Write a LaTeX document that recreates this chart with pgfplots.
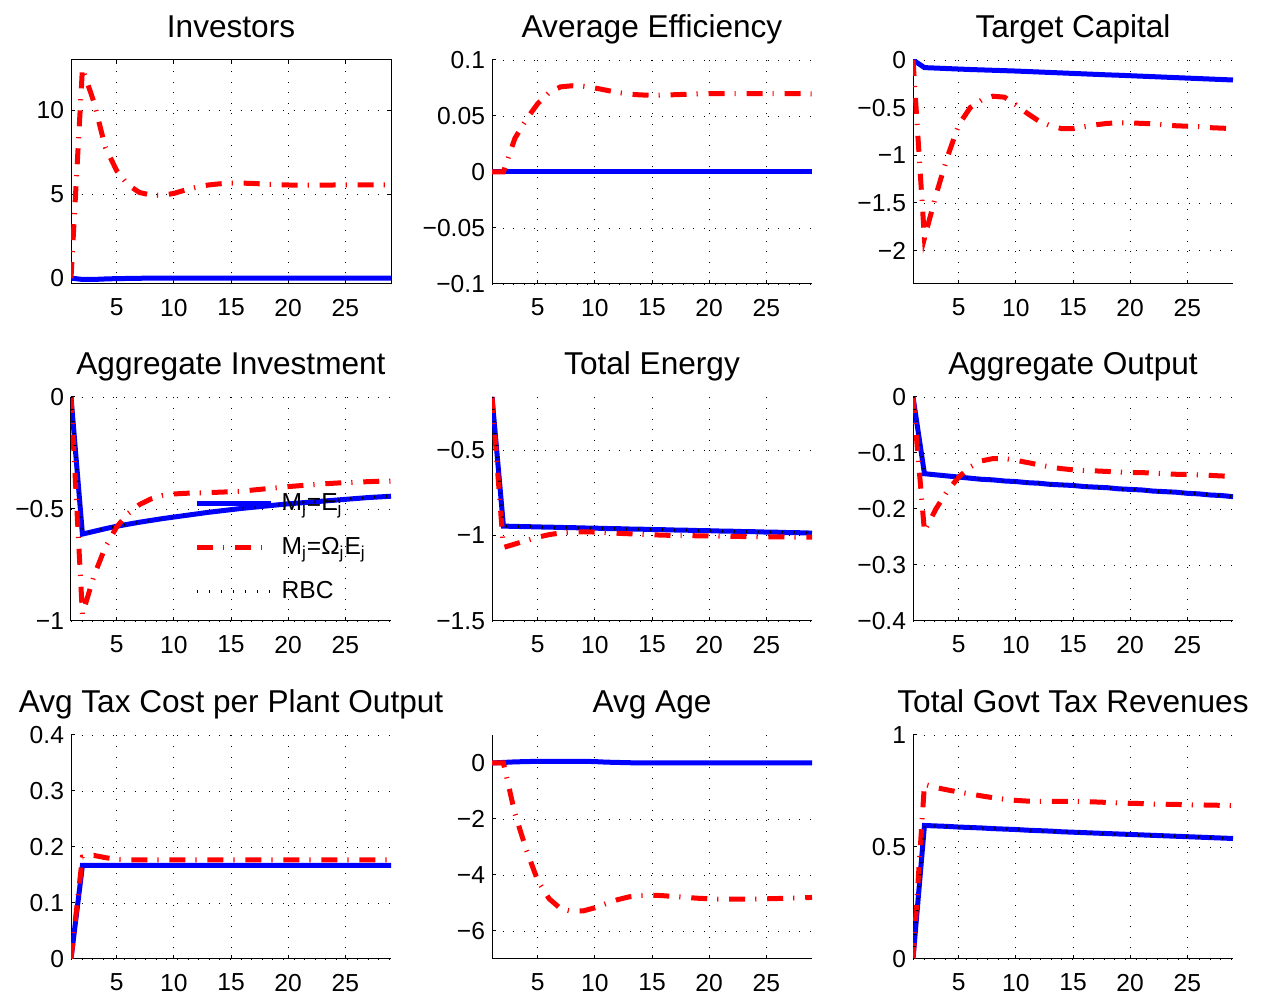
\documentclass[border=0pt]{standalone}
\usepackage{fontspec}
\setmainfont{Liberation Sans}
\usepackage{pgfplots}
\usepackage{pgfplotstable}
\pgfplotsset{compat=1.18}

\pgfplotstableread{
t b r
1 0 0
2 -0.08 12.5
3 -0.08 10.5
4 -0.05 7.8
5 -0.03 6.4
6 -0.02 5.55
7 -0.01 5.1
8 0 4.95
9 0 4.93
10 0 5.05
11 0 5.25
12 0 5.42
13 0 5.55
14 0 5.62
15 0 5.66
16 0 5.66
17 0 5.64
18 0 5.6
19 0 5.57
20 0 5.55
21 0 5.54
22 0 5.54
23 0 5.54
24 0 5.55
25 0 5.55
26 0 5.55
27 0 5.56
28 0 5.56
29 0 5.56
}\tinv

\pgfplotstableread{
t b r
1 0 0
2 0 0
3 0 0.03
4 0 0.047
5 0 0.061
6 0 0.071
7 0 0.076
8 0 0.077
9 0 0.0765
10 0 0.075
11 0 0.073
12 0 0.071
13 0 0.0695
14 0 0.0688
15 0 0.0685
16 0 0.0687
17 0 0.069
18 0 0.0694
19 0 0.0697
20 0 0.0699
21 0 0.07
22 0 0.07
23 0 0.07
24 0 0.07
25 0 0.07
26 0 0.07
27 0 0.07
28 0 0.0699
29 0 0.0698
}\teff

\pgfplotstableread{
t b r
1 0 0
2 -0.08 -1.87
3 -0.085 -1.42
4 -0.09 -1.02
5 -0.095 -0.68
6 -0.10 -0.50
7 -0.104 -0.42
8 -0.108 -0.38
9 -0.112 -0.39
10 -0.116 -0.47
11 -0.121 -0.56
12 -0.126 -0.64
13 -0.131 -0.69
14 -0.136 -0.72
15 -0.141 -0.72
16 -0.146 -0.70
17 -0.151 -0.68
18 -0.156 -0.665
19 -0.160 -0.66
20 -0.165 -0.66
21 -0.170 -0.665
22 -0.175 -0.67
23 -0.180 -0.68
24 -0.185 -0.69
25 -0.190 -0.695
26 -0.195 -0.70
27 -0.200 -0.71
28 -0.205 -0.715
29 -0.210 -0.72
}\tcap

\pgfplotstableread{
t b r
1 0 0
2 -0.612 -0.97
3 -0.600 -0.80
4 -0.588 -0.67
5 -0.577 -0.58
6 -0.568 -0.52
7 -0.559 -0.48
8 -0.551 -0.455
9 -0.543 -0.44
10 -0.536 -0.433
11 -0.529 -0.43
12 -0.522 -0.428
13 -0.515 -0.427
14 -0.509 -0.425
15 -0.503 -0.423
16 -0.497 -0.42
17 -0.492 -0.415
18 -0.487 -0.41
19 -0.482 -0.405
20 -0.477 -0.40
21 -0.473 -0.396
22 -0.469 -0.392
23 -0.465 -0.388
24 -0.461 -0.385
25 -0.457 -0.382
26 -0.453 -0.38
27 -0.449 -0.378
28 -0.446 -0.376
29 -0.443 -0.375
}\tinvest

\pgfplotstableread{
t b r
1 -0.19 -0.19
2 -0.945 -1.07
3 -0.947 -1.05
4 -0.948 -1.03
5 -0.950 -1.01
6 -0.951 -0.995
7 -0.953 -0.985
8 -0.954 -0.98
9 -0.956 -0.978
10 -0.957 -0.98
11 -0.959 -0.983
12 -0.960 -0.987
13 -0.962 -0.99
14 -0.963 -0.993
15 -0.965 -0.996
16 -0.966 -0.998
17 -0.968 -1.0
18 -0.969 -1.0
19 -0.971 -1.002
20 -0.972 -1.003
21 -0.974 -1.004
22 -0.975 -1.005
23 -0.977 -1.006
24 -0.978 -1.007
25 -0.980 -1.008
26 -0.981 -1.008
27 -0.983 -1.009
28 -0.984 -1.01
29 -0.986 -1.01
}\tene

\pgfplotstableread{
t b r
1 0 0
2 -0.137 -0.24
3 -0.139 -0.20
4 -0.141 -0.168
5 -0.143 -0.143
6 -0.145 -0.125
7 -0.147 -0.114
8 -0.148 -0.11
9 -0.150 -0.11
10 -0.151 -0.113
11 -0.153 -0.117
12 -0.154 -0.121
13 -0.156 -0.125
14 -0.157 -0.128
15 -0.158 -0.13
16 -0.160 -0.131
17 -0.161 -0.132
18 -0.162 -0.133
19 -0.164 -0.134
20 -0.165 -0.135
21 -0.166 -0.135
22 -0.168 -0.136
23 -0.169 -0.137
24 -0.170 -0.138
25 -0.172 -0.138
26 -0.173 -0.139
27 -0.175 -0.14
28 -0.176 -0.141
29 -0.178 -0.142
}\tout

\pgfplotstableread{
t b r
1 0 0
2 0.167 0.182
3 0.167 0.185
4 0.167 0.181
5 0.167 0.178
6 0.167 0.177
7 0.167 0.177
8 0.167 0.177
9 0.167 0.177
10 0.167 0.177
11 0.167 0.177
12 0.167 0.177
13 0.167 0.177
14 0.167 0.177
15 0.167 0.177
16 0.167 0.177
17 0.167 0.177
18 0.167 0.177
19 0.167 0.177
20 0.167 0.177
21 0.167 0.177
22 0.167 0.177
23 0.167 0.177
24 0.167 0.177
25 0.167 0.177
26 0.167 0.177
27 0.167 0.177
28 0.167 0.177
29 0.167 0.177
}\ttax

\pgfplotstableread{
t b r
1 0 0
2 0.02 0
3 0.04 -1.8
4 0.05 -3.1
5 0.06 -4.2
6 0.06 -4.85
7 0.06 -5.2
8 0.06 -5.3
9 0.06 -5.28
10 0.05 -5.17
11 0.03 -5.02
12 0.02 -4.88
13 0.01 -4.78
14 0 -4.73
15 0 -4.72
16 0 -4.74
17 0 -4.77
18 0 -4.8
19 0 -4.83
20 0 -4.85
21 0 -4.86
22 0 -4.86
23 0 -4.86
24 0 -4.86
25 0 -4.85
26 0 -4.84
27 0 -4.83
28 0 -4.82
29 0 -4.8
}\tage

\pgfplotstableread{
t b r
1 0 0
2 0.596 0.78
3 0.594 0.765
4 0.592 0.755
5 0.589 0.745
6 0.587 0.737
7 0.585 0.728
8 0.582 0.72
9 0.580 0.713
10 0.578 0.708
11 0.575 0.705
12 0.573 0.704
13 0.571 0.704
14 0.568 0.704
15 0.566 0.704
16 0.564 0.703
17 0.562 0.701
18 0.560 0.699
19 0.558 0.697
20 0.556 0.695
21 0.554 0.694
22 0.552 0.692
23 0.550 0.691
24 0.548 0.69
25 0.546 0.689
26 0.544 0.688
27 0.542 0.687
28 0.540 0.686
29 0.538 0.685
}\tgov

\pgfplotsset{
  base/.style={
    scale only axis, width=160pt, height=112pt,
    xmin=1, xmax=29,
    xtick={5,10,15,20,25}, xticklabels={5,10,15,20,25},
    tick align=inside,
    major tick length=1.8pt,
    axis line style={black, line width=0.5pt},
    every tick/.style={black, line width=0.5pt},
    grid=major,
    major grid style={black, line width=0.45pt, dash pattern=on 0.5pt off 4.8pt},
    tick label style={font=\fontsize{12.3}{14}\selectfont, black},
    xticklabel style={yshift=-4pt},
    title style={font=\fontsize{15.8}{18}\selectfont, at={(0.5,1)}, anchor=base, yshift=5pt},
    clip=true,
  },
  nobox/.style={axis x line*=bottom, axis y line*=left, xtick pos=bottom, ytick pos=left},
  bl/.style={blue, line width=2.5pt},
  rd/.style={red, line width=2.5pt, dash pattern=on 8pt off 5pt on 0.6pt off 5.4pt},
  rb/.style={black, line width=1.5pt, dash pattern=on 0.5pt off 5.5pt},
}

\begin{document}
\begin{tikzpicture}
\path[use as bounding box] (0,0) rectangle (631pt,497pt);

% Row 1
\begin{axis}[base, at={(35.5pt,355pt)}, anchor=south west,
  title={Investors}, ymin=-0.35, ymax=13,
  ytick={0,5,10}, yticklabels={0,5,10}]
\addplot[bl] table[x=t,y=b]{\tinv};
\addplot[rd] table[x=t,y=r]{\tinv};
\end{axis}

\begin{axis}[base, nobox, at={(246pt,355pt)}, anchor=south west,
  title={Average Efficiency}, ymin=-0.1, ymax=0.1,
  ytick={-0.1,-0.05,0,0.05,0.1}, yticklabels={−0.1,−0.05,0,0.05,0.1}]
\addplot[bl] table[x=t,y=b]{\teff};
\addplot[rd] table[x=t,y=r]{\teff};
\end{axis}

\begin{axis}[base, nobox, at={(456.5pt,355pt)}, anchor=south west,
  title={Target Capital}, ymin=-2.35, ymax=0,
  ytick={-2,-1.5,-1,-0.5,0}, yticklabels={−2,−1.5,−1,−0.5,0}]
\addplot[bl] table[x=t,y=b]{\tcap};
\addplot[rd] table[x=t,y=r]{\tcap};
\end{axis}

% Row 2
\begin{axis}[base, nobox, at={(35.5pt,186.5pt)}, anchor=south west,
  title={Aggregate Investment}, ymin=-1, ymax=0,
  ytick={-1,-0.5,0}, yticklabels={−1,−0.5,0},
  legend style={at={(0.385,0.59)}, anchor=north west, draw=none, fill=none,
    inner sep=0pt, row sep=8pt, font=\fontsize{12.3}{14}\selectfont},
  legend cell align=left,
  legend style={/tikz/every odd column/.append style={column sep=2pt}},
  legend image code/.code={\draw[#1] (0pt,0pt) -- (37pt,0pt);}]
\addplot[bl] table[x=t,y=b]{\tinvest};
\addlegendentry{M\textsubscript{j}=E\textsubscript{j}}
\addplot[rd] table[x=t,y=r]{\tinvest};
\addlegendentry{M\textsubscript{j}=Ω\textsubscript{j}E\textsubscript{j}}
\addplot[rb] table[x=t,y=b]{\tinvest};
\addlegendentry{RBC}
\end{axis}

\begin{axis}[base, nobox, at={(246pt,186.5pt)}, anchor=south west,
  title={Total Energy}, ymin=-1.5, ymax=-0.19,
  ytick={-1.5,-1,-0.5}, yticklabels={−1.5,−1,−0.5}]
\addplot[bl] table[x=t,y=b]{\tene};
\addplot[rd] table[x=t,y=r]{\tene};
\addplot[rb] table[x=t,y=b]{\tene};
\end{axis}

\begin{axis}[base, nobox, at={(456.5pt,186.5pt)}, anchor=south west,
  title={Aggregate Output}, ymin=-0.4, ymax=0,
  ytick={-0.4,-0.3,-0.2,-0.1,0}, yticklabels={−0.4,−0.3,−0.2,−0.1,0}]
\addplot[bl] table[x=t,y=b]{\tout};
\addplot[rd] table[x=t,y=r]{\tout};
\addplot[rb] table[x=t,y=b]{\tout};
\end{axis}

% Row 3
\begin{axis}[base, nobox, at={(35.5pt,17.5pt)}, anchor=south west,
  title={Avg Tax Cost per Plant Output}, ymin=0, ymax=0.4,
  ytick={0,0.1,0.2,0.3,0.4}, yticklabels={0,0.1,0.2,0.3,0.4}]
\addplot[bl] table[x=t,y=b]{\ttax};
\addplot[rd] table[x=t,y=r]{\ttax};
\end{axis}

\begin{axis}[base, nobox, at={(246pt,17.5pt)}, anchor=south west,
  title={Avg Age}, ymin=-7, ymax=1,
  ytick={-6,-4,-2,0}, yticklabels={−6,−4,−2,0}]
\addplot[bl] table[x=t,y=b]{\tage};
\addplot[rd] table[x=t,y=r]{\tage};
\end{axis}

\begin{axis}[base, nobox, at={(456.5pt,17.5pt)}, anchor=south west,
  title={Total Govt Tax Revenues}, ymin=0, ymax=1,
  ytick={0,0.5,1}, yticklabels={0,0.5,1}]
\addplot[bl] table[x=t,y=b]{\tgov};
\addplot[rd] table[x=t,y=r]{\tgov};
\addplot[rb] table[x=t,y=b]{\tgov};
\end{axis}
\end{tikzpicture}
\end{document}
